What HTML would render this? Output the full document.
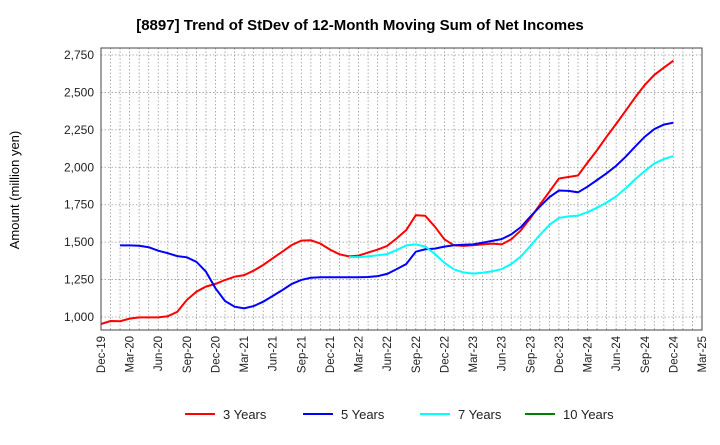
<!DOCTYPE html>
<html><head><meta charset="utf-8"><style>
body{margin:0;background:#fff;font-family:"Liberation Sans",sans-serif}
</style></head><body>
<svg width="720" height="440" xmlns="http://www.w3.org/2000/svg" font-family="Liberation Sans, sans-serif">
<text x="360" y="30" text-anchor="middle" font-size="15" font-weight="bold">[8897]  Trend of StDev of 12-Month Moving Sum of Net Incomes</text>
<text transform="translate(19,190) rotate(-90)" text-anchor="middle" font-size="13">Amount (million yen)</text>
<g id="grid"></g>
<g id="axes"></g>
<g id="series"></g>
<rect x="101" y="48" width="601" height="282" fill="none" stroke="#444" stroke-width="1"/>
<g id="legend"></g>
</svg>
<script>
const yTicks=[1000,1250,1500,1750,2000,2250,2500,2750];
const xTickLabels=["Dec-19","Mar-20","Jun-20","Sep-20","Dec-20","Mar-21","Jun-21","Sep-21","Dec-21","Mar-22","Jun-22","Sep-22","Dec-22","Mar-23","Jun-23","Sep-23","Dec-23","Mar-24","Jun-24","Sep-24","Dec-24","Mar-25"];
const seriesNames=["3 Years","5 Years","7 Years","10 Years"];
const seriesColors=["#ff0000","#0000ff","#00ffff","#008000"];
const red=[953,973,972,989,997,997,997,1005,1035,1114,1169,1203,1221,1247,1269,1280,1309,1347,1392,1436,1481,1510,1512,1490,1450,1419,1405,1410,1430,1450,1475,1525,1581,1680,1676,1603,1519,1479,1475,1479,1485,1490,1485,1519,1577,1659,1750,1837,1925,1935,1945,2031,2115,2204,2289,2378,2467,2550,2617,2665,2712];
const blue=[null,null,1478,1478,1476,1466,1443,1426,1407,1399,1369,1303,1192,1107,1069,1058,1073,1102,1140,1180,1221,1248,1262,1265,1265,1265,1265,1265,1267,1273,1288,1320,1354,1436,1452,1457,1470,1479,1483,1485,1496,1508,1520,1552,1599,1670,1737,1800,1845,1842,1833,1870,1915,1960,2009,2071,2138,2204,2255,2285,2298];
const cyan=[...Array(26).fill(null),1400,1400,1405,1412,1420,1447,1478,1485,1470,1421,1363,1318,1298,1290,1295,1305,1320,1354,1403,1474,1548,1615,1662,1672,1677,1700,1730,1765,1805,1860,1920,1975,2025,2055,2075];
const green=[];
const x0=101,x1=702,y0=317,y1=55,nMonths=63;
const X=i=>x0+i*(x1-x0)/nMonths;
const Y=v=>y0-(v-1000)/(2750-1000)*(y0-y1);
const ns="http://www.w3.org/2000/svg";
function mk(t,a,p){const e=document.createElementNS(ns,t);for(const k in a)e.setAttribute(k,a[k]);p.appendChild(e);return e;}
const grid=document.getElementById('grid'),axes=document.getElementById('axes');
for(let i=1;i<nMonths;i++){const l=mk('line',{x1:X(i),x2:X(i),y1:48,y2:330,stroke:'#999','stroke-dasharray':'1.5,2','stroke-width':0.8},grid);

}
yTicks.forEach(v=>{const l=mk('line',{x1:101,x2:702,y1:Y(v),y2:Y(v),stroke:'#999','stroke-dasharray':'1.5,2','stroke-width':0.8},grid);


const t=mk('text',{x:94,y:Y(v)+4,'text-anchor':'end','font-size':12,fill:'#222'},axes);
t.textContent=v.toLocaleString('en-US');

});
xTickLabels.forEach((s,k)=>{const x=X(k*3);
const t=mk('text',{transform:`translate(${x+4},336) rotate(-90)`,'text-anchor':'end','font-size':11.5,fill:'#222'},axes);
t.textContent=s;

});
const sg=document.getElementById('series');
[red,blue,cyan,green].forEach((arr,si)=>{let d='';let pen=false;arr.forEach((v,i)=>{if(v==null){pen=false;return;}d+=(pen?'L':'M')+X(i).toFixed(1)+','+Y(v).toFixed(1);pen=true;});
if(!d)return;
const p=mk('path',{d:d,fill:'none',stroke:seriesColors[si],'stroke-width':2},sg);

});
const lg=document.getElementById('legend');const lx=[185,303,420,525];
seriesNames.forEach((n,i)=>{const l=mk('line',{x1:lx[i],x2:lx[i]+30,y1:414,y2:414,stroke:seriesColors[i],'stroke-width':2},lg);


const t=mk('text',{x:lx[i]+38,y:419,'font-size':13,fill:'#222'},lg);t.textContent=n;

});
</script>
</body></html>
